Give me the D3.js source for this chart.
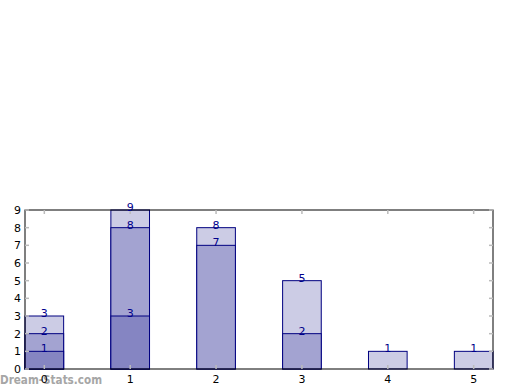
<!DOCTYPE html>
<html><head><meta charset="utf-8">
<script src="https://cdn.jsdelivr.net/npm/d3@7"></script>
<style>body{margin:0;background:#fff}svg{display:block}</style>
</head><body>
<script>
const categories = ["0","1","2","3","4","5"];
const layerDark = [1,3,0,0,0,0];
const layerMid = [2,8,7,2,0,0];
const layerLight = [3,9,8,5,1,1];
const yTicks = [0,1,2,3,4,5,6,7,8,9];
const layers = [
  {values: layerLight, color: "#ccccE5"},
  {values: layerMid, color: "#a3a3d1"},
  {values: layerDark, color: "#8585c2"}
];
const W = 520, H = 390;
const L = 25, R = 493, T = 210, B = 369;
const svg = d3.select("body").append("svg").attr("width", W).attr("height", H);
const barW = 0.45;
const x = d3.scaleLinear().domain([0, categories.length - 1 + barW]).range([L, R]);
const y = d3.scaleLinear().domain([0, 9]).range([B, T]);
const font = "DejaVu Sans";

// watermark (behind everything)
svg.append("text").attr("x",0).attr("y",384).attr("font-family",font)
  .attr("font-size",12).attr("fill","#a6a6a6")
  .attr("textLength",102).attr("lengthAdjust","spacingAndGlyphs")
  .style("font-weight","600").text("Dream-Stats.com");

// bars
layers.forEach(ly => {
  svg.append("g").selectAll("rect").data(ly.values.map((v,i)=>({v,i})).filter(d=>d.v>0))
    .join("rect")
    .attr("x", d => x(d.i))
    .attr("y", d => y(d.v))
    .attr("width", d => x(d.i + barW) - x(d.i))
    .attr("height", d => y(0) - y(d.v))
    .attr("fill", ly.color)
    .attr("stroke", "#000080")
    .attr("stroke-width", 1);
});

// frame
svg.append("rect").attr("x", L).attr("y", T).attr("width", R-L).attr("height", B-T)
  .attr("fill","none").attr("stroke","#000").attr("stroke-width",1);

// ticks (inside, gray)
const tg = svg.append("g").attr("stroke","#bbbbbb").attr("stroke-width",1.5);
categories.forEach((c,i) => {
  const cx = x(i + barW/2);
  tg.append("line").attr("x1",cx).attr("x2",cx).attr("y1",B).attr("y2",B-4);
  tg.append("line").attr("x1",cx).attr("x2",cx).attr("y1",T).attr("y2",T+4);
});
yTicks.forEach(t => {
  tg.append("line").attr("x1",L).attr("x2",L+4).attr("y1",y(t)).attr("y2",y(t));
  tg.append("line").attr("x1",R).attr("x2",R-4).attr("y1",y(t)).attr("y2",y(t));
});

// tick labels
svg.append("g").selectAll("text").data(categories).join("text")
  .attr("x",(d,i)=>x(i+barW/2)).attr("y",B+14)
  .attr("text-anchor","middle").attr("font-family",font).attr("font-size",11)
  .attr("fill","#000").text(d=>d);
svg.append("g").selectAll("text").data(yTicks).join("text")
  .attr("x",L-4).attr("y",d=>y(d)+4)
  .attr("text-anchor","end").attr("font-family",font).attr("font-size",11)
  .attr("fill","#000").text(d=>d);

// value labels
layers.forEach(ly => {
  svg.append("g").selectAll("text").data(ly.values.map((v,i)=>({v,i})).filter(d=>d.v>0))
    .join("text")
    .attr("x", d => x(d.i + barW/2))
    .attr("y", d => y(d.v) + 1)
    .attr("text-anchor","middle").attr("font-family",font).attr("font-size",11)
    .attr("fill","#00008b").text(d => d.v);
});
</script>
</body></html>
